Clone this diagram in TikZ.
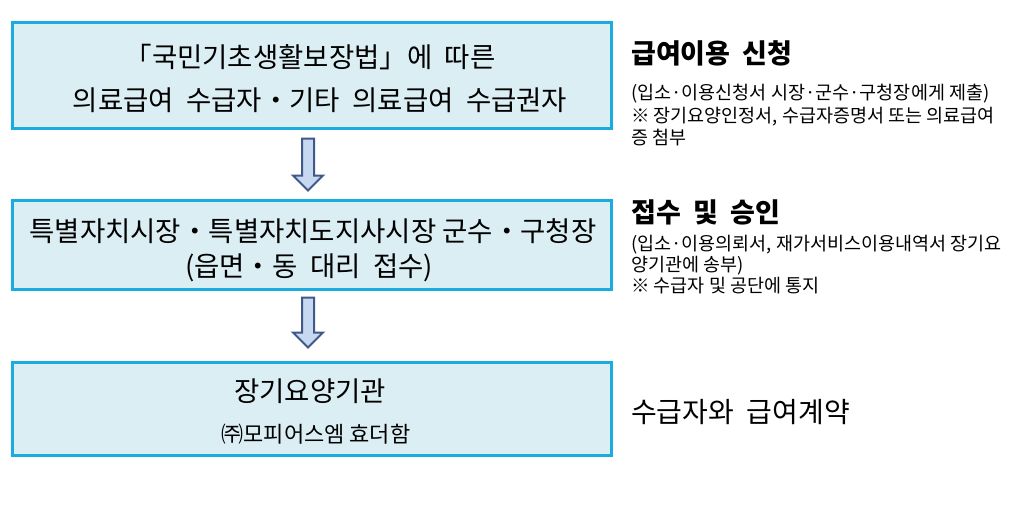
\documentclass[tikz,border=0pt]{standalone}
\usepackage{fontspec}
\setmainfont{Noto Sans CJK KR}
\usetikzlibrary{calc}
\definecolor{boxline}{HTML}{1AABDF}
\definecolor{boxfill}{HTML}{DBEEF4}
\definecolor{arrfill}{HTML}{C6D9F1}
\definecolor{arrline}{HTML}{41598A}
\begin{document}
\begin{tikzpicture}[x=1pt,y=-1pt,
  box/.style={draw=boxline, fill=boxfill, line width=3pt, minimum width=599pt, inner sep=0pt},
  bigtxt/.style={font=\fontsize{27.5}{32}\selectfont, inner sep=0pt},
  midtxt/.style={font=\fontsize{22}{26}\selectfont, inner sep=0pt},
  headtxt/.style={font=\fontsize{27}{31}\bfseries\selectfont, inner sep=0pt, anchor=west},
  subtxt/.style={font=\fontsize{18.5}{22}\selectfont, inner sep=0pt, anchor=west},
  righttxt/.style={font=\fontsize{28}{32}\selectfont, inner sep=0pt, anchor=west},
  blockarrow/.style={draw=arrline, fill=arrfill, line width=2pt, line join=miter}]
\useasboundingbox[fill=white] (0,0) rectangle (1031,511);

% boxes
\node[box, minimum height=105pt] (b1) at (311.5,75.5) {};
\node[box, minimum height=89pt]  (b2) at (311.5,244.5) {};
\node[box, minimum height=93pt]  (b3) at (311.5,408.5) {};

% box texts
\node[bigtxt] (t1a) at (310,57) {「국민기초생활보장법」에 \ 따른};
\node[bigtxt] (t1b) at (320,100) {의료급여 \ 수급자・기타 \ 의료급여 \ 수급권자};
\node[bigtxt] (t2a) at (313,231) {특별자치시장・특별자치도지사시장 군수・구청장};
\node[bigtxt] (t2b) at (309,268) {(읍면・동 \ 대리 \ 접수)};
\node[bigtxt] (t3a) at (310,391) {장기요양기관};
\node[midtxt] (t3b) at (316,434) {㈜모피어스엠 효더함};

% block arrows
\coordinate (a1) at ($(b1.south)+(-3.5,9)$);
\draw[blockarrow] (a1) ++(-6,0) -- ++(12,0) -- ++(0,37) -- ++(9,0) -- ++(-15,15) -- ++(-15,-15) -- ++(9,0) -- cycle;
\coordinate (a2) at ($(b2.south)+(-3.5,7)$);
\draw[blockarrow] (a2) ++(-6,0) -- ++(12,0) -- ++(0,35) -- ++(9,0) -- ++(-15,15) -- ++(-15,-15) -- ++(9,0) -- cycle;

% right column
\node[headtxt] (h1) at (631,53) {급여이용 \ 신청};
\node[subtxt] (s1a) at (631,94) {(입소·이용신청서 시장·군수·구청장에게 제출)};
\node[subtxt] (s1b) at (631,117) {※ 장기요양인정서, 수급자증명서 또는 의료급여};
\node[subtxt] (s1c) at (631,138) {증 첨부};

\node[headtxt] (h2) at (631,212) {접수 \ 및 \ 승인};
\node[subtxt] (s2a) at (631,245) {(입소·이용의뢰서, 재가서비스이용내역서 장기요};
\node[subtxt] (s2b) at (631,266) {양기관에 송부)};
\node[subtxt] (s2c) at (631,286) {※ 수급자 및 공단에 통지};

\node[righttxt] (r3) at (631,412) {수급자와 \ 급여계약};
\end{tikzpicture}
\end{document}
